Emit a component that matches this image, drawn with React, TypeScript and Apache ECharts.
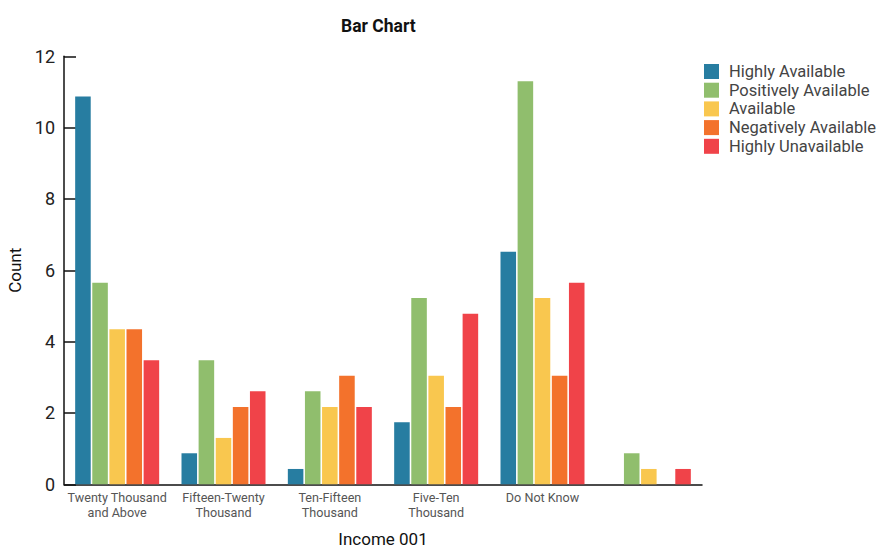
import React, { useEffect, useRef } from "react";
import * as echarts from "echarts";

const categories = [
  "Twenty Thousand\nand Above",
  "Fifteen-Twenty\nThousand",
  "Ten-Fifteen\nThousand",
  "Five-Ten\nThousand",
  "Do Not Know",
  "",
];

const seriesNames = [
  "Highly Available",
  "Positively Available",
  "Available",
  "Negatively Available",
  "Highly Unavailable",
];

const highlyAvailable = [10.87, 0.87, 0.43, 1.74, 6.52, 0];
const positivelyAvailable = [5.65, 3.48, 2.61, 5.22, 11.3, 0.87];
const available = [4.35, 1.3, 2.17, 3.04, 5.22, 0.43];
const negativelyAvailable = [4.35, 2.17, 3.04, 2.17, 3.04, 0];
const highlyUnavailable = [3.48, 2.61, 2.17, 4.78, 5.65, 0.43];

const seriesValues = [
  highlyAvailable,
  positivelyAvailable,
  available,
  negativelyAvailable,
  highlyUnavailable,
];

const colors = ["#277DA1", "#90BE6D", "#F9C74F", "#F3722C", "#F04349"];

const yTicks = { min: 0, max: 12, interval: 2 };

const FONT = "Roboto, 'Noto Sans', sans-serif";

export default function App() {
  const ref = useRef<HTMLDivElement>(null);

  useEffect(() => {
    if (!ref.current) return;
    const chart = echarts.init(ref.current, undefined, { renderer: "svg" });
    chart.setOption({
      animation: false,
      color: colors,
      textStyle: { fontFamily: FONT },
      title: {
        text: "Bar Chart",
        left: 336,
        top: 12,
        textStyle: { fontSize: 17.5, fontWeight: "bold", color: "#111", fontFamily: FONT },
      },
      legend: {
        orient: "vertical",
        left: 704,
        top: 63,
        padding: 0,
        itemWidth: 15,
        itemHeight: 15,
        itemGap: 1.7,
        icon: "rect",
        data: seriesNames,
        textStyle: {
          fontSize: 16.5,
          color: "#444",
          fontFamily: FONT,
          padding: [0, 0, 0, 5],
        },
      },
      grid: {
        left: 64,
        right: 181,
        top: 56.3,
        bottom: 65.7,
        containLabel: false,
        outerBoundsMode: "none",
      },
      xAxis: {
        type: "category",
        data: categories,
        name: "Income 001",
        nameLocation: "middle",
        nameGap: 46,
        nameTextStyle: { fontSize: 17, color: "#111", fontFamily: FONT },
        axisLine: { lineStyle: { color: "#111", width: 1.5 } },
        axisTick: { inside: true, length: 11, lineStyle: { color: "#111", width: 1.5 } },
        axisLabel: {
          interval: 0,
          margin: 5,
          fontSize: 12.6,
          lineHeight: 15.5,
          color: "#555",
          fontFamily: FONT,
        },
      },
      yAxis: {
        type: "value",
        min: yTicks.min,
        max: yTicks.max,
        interval: yTicks.interval,
        name: "Count",
        nameLocation: "middle",
        nameGap: 35,
        nameTextStyle: { fontSize: 17, color: "#111", fontFamily: FONT },
        axisLine: { show: true, lineStyle: { color: "#111", width: 1.5 } },
        axisTick: { show: true, inside: true, length: 12, lineStyle: { color: "#111", width: 1.5 } },
        splitLine: { show: false },
        axisLabel: {
          fontSize: 18,
          color: "#222",
          margin: 9,
          padding: [6, 0, 0, 0],
          fontFamily: FONT,
        },
      },
      series: seriesNames.map((name, i) => ({
        name,
        type: "bar",
        data: seriesValues[i],
        barGap: "10%",
        barCategoryGap: "21%",
        itemStyle: { color: colors[i] },
      })),
    });
    return () => chart.dispose();
  }, []);

  return (
    <div
      ref={ref}
      style={{ position: "absolute", left: 0, top: 0, width: 883, height: 550 }}
    />
  );
}
